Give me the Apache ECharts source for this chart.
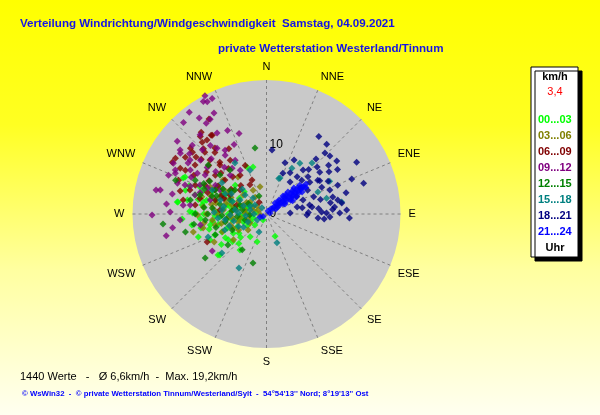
<!DOCTYPE html>
<html>
<head>
<meta charset="utf-8">
<script src="https://cdn.jsdelivr.net/npm/echarts@6/dist/echarts.min.js"></script>
<style>
  html, body { margin: 0; padding: 0; }
  #main { width: 600px; height: 415px; }
</style>
</head>
<body>
<div id="main"></div>
<script>
// Himmelsrichtungen (Winkelachse, alle 22,5 Grad)
var dirLabels = ['N', 'NNE', 'NE', 'ENE', 'E', 'ESE', 'SE', 'SSE', 'S', 'SSW', 'SW', 'WSW', 'W', 'WNW', 'NW', 'NNW'];
// beschriftete Ringe der Radiusachse (km/h)
var radiusLabels = [0, 10];
var maxSpeed = 19.2;
var hourBins = ['00...03', '03...06', '06...09', '09...12', '12...15', '15...18', '18...21', '21...24'];
var binColors = ['#00ff00', '#808000', '#800000', '#800080', '#008000', '#008080', '#000080', '#0000ff'];

// Messwerte je 3-Stunden-Block: [Geschwindigkeit km/h, Richtung Grad]
var h00 = [[12.1,266.6],[10.2,270.8],[7.1,272.3],[5.8,282.8],[2.8,290.7],[9.2,280.7],[6.7,266.3],[4.6,246.2],
  [6.3,230.9],[9.1,229.8],[6.4,216.4],[4.2,198.7],[4.0,215.7],[3.4,158.9],[6.9,248],[8.9,245.3],[1.0,210],
  [12.8,277.7],[12.1,286.4],[9.3,278],[10.3,251.4],[8.9,228.6],[12.8,294.4],[10.3,292.1],[12.9,277.6],
  [10.6,270.8],[7.3,337.5],[7.0,344],[13.0,293.3],[3.8,267.8],[8.2,259],[6.5,294.6],[6.1,312.6],[2.3,226.3],
  [10.8,261.6],[5.0,260],[3.0,275],[4.5,300],[7.5,285],[8.0,300],[5.5,240],[3.5,250],[9.8,288],
  [7.8,262],[6.0,250],[8.5,255],[4.8,235],[3.2,238],[5.5,270],[9.5,266],[11.0,272],[7.0,295],[5.2,290],
  [2.0,255],[1.5,280],[8.8,283],[6.2,277],[4.0,287],[3.5,262],[10.0,282],[6.8,240],[11.5,280],[9.0,270],
  [5.8,223],[7.8,236],[2.6,300],[4.5,315],
  [7.0,258],[8.0,248],[5.0,228],[6.6,236],[9.6,258],[4.0,258],[2.5,245],[7.4,268],[3.0,288],[6.0,300],
  [8.4,292],[10.6,285],[11.8,290],[5.4,282]];
var h03 = [[7.5,257.9],[4.2,254.3],[2.7,241.4],[0.9,261],[3.1,280.5],[6.2,275.3],[9.1,276.4],[9.9,269.2],
  [10.8,256.2],[9.3,257.6],[5.2,247.3],[2.2,297.4],[7.1,290.1],[5.1,284.6],[2.9,306],[1.3,295.2],[3.1,272.7],
  [4.3,277.7],[6.5,299.1],[3.9,330.6],[4.0,346.5],[8.9,295.5],[7.9,308],[6.7,322.4],[4.3,309],[5.2,268.4],
  [7.8,263.7],[3.5,229.1],[8.5,241.9],[5.4,253.2],[2.9,326],
  [6.0,285],[7.0,270],[8.0,280],[3.6,290],[5.6,295],[4.8,262],[6.6,258],[2.4,268],[8.4,288],[5.8,305],
  [7.2,300],[3.3,300],[4.6,240],[6.0,232],[2.0,285],[7.6,275],[9.6,285],[1.8,310],
  [5.0,275],[6.4,290],[8.6,270],[3.8,262],[7.4,282],[4.4,295],[9.0,262],[2.8,255],[6.8,248],[5.6,264]];
var h06 = [[15.9,328.8],[13.8,324.9],[15.0,321.4],[13.8,309.8],[13.0,309],[15.3,301.5],[13.6,321.2],[13.8,318.1],
  [14.6,319.5],[13.7,325.5],[14.4,310.8],[15.4,298.8],[13.2,298.4],[12.4,304.4],[11.2,313.7],[9.7,316.5],
  [9.3,326],[6.7,325.8],[9.2,307.1],[7.7,309.3],[9.7,295.2],[11.5,287.4],[5.9,297.5],[7.6,285.2],[5.1,312.2],
  [4.8,330.4],[7.6,336.3],[13.5,291],[12.1,279.5],[10.3,277.2],[6.7,275],[4.5,286.4],[9.4,244.8],[2.0,328],
  [5.3,336.9],
  [8.0,300],[10.5,305],[11.8,298],[9.0,290],[10.0,318],[12.5,315],[8.5,320],[6.2,305],[11.0,292],[12.8,285],
  [7.0,292],[14.2,305],[10.8,330],[12.0,322],[8.8,312],[5.5,318],
  [9.5,300],[10.8,310],[8.2,295],[11.5,320],[7.2,318],[6.5,290],[13.0,316],[9.8,283],[12.2,310],[14.0,298]];
var h09 = [[19.1,332.5],[18.5,330.7],[18.2,332.2],[18.3,334.8],[18.3,322.8],[16.3,332.5],[15.8,329.3],[15.6,326.4],
  [17.7,317.8],[15.4,306.5],[13.4,305.2],[14.5,295.7],[15.1,291.6],[15.6,282.7],[16.4,269.5],[14.4,275.7],
  [13.8,271.2],[13.6,261.6],[14.7,257.7],[9.4,235.8],[16.2,282.3],[12.2,309.1],[12.7,320.7],[10.9,327],
  [8.9,329.7],[7.3,329],[7.6,316.9],[8.4,299.4],[10.4,293.6],[10.6,284.9],[12.4,289.6],[10.4,302.4],
  [13.6,328.6],[12.2,341.2],[16.5,309.2],[14.5,312.8],[15.1,305.2],[15.2,298.6],[13.4,303],[14.3,294.1],
  [11.5,300.5],[13.5,289.1],[11.8,323.1],[10.3,324.9],[8.2,323.1],[7.5,297.3],[8.3,283.9],[11,276.7],
  [12.4,266],[9.6,260.6],
  [9.5,310],[11.2,315],[13.0,315],[9.0,318],[14.8,320],[12.0,296],[10.0,288],[16.8,325],[13.2,335],[11.0,335],
  [10.8,308],[12.6,300],[9.2,294],[14.0,308],[11.6,290],[13.8,282],[12.0,276]];
var h12 = [[14.9,264.5],[11.9,257.5],[10.8,234.4],[7.3,195.4],[6.2,214.2],[2.8,337.4],[9.6,350.1],[13.9,290.4],
  [9.9,286],[8.1,295],[5.6,291],[3.2,254.4],[6.0,259.1],[8.8,264.4],[11.1,280.4],[7.8,276.3],[5.7,307.3],
  [8.7,310],[4.0,288.8],[2.4,266.5],[11.3,295.4],[10.9,310],[8.2,320.3],[7.9,247.8],[7.1,231.2],
  [6.8,282],[9.0,276],[7.2,300],[5.0,275],[4.2,265],[10.2,270],[8.2,288],[6.4,268],[3.5,280],[9.4,300],
  [7.5,255],[5.4,245],[10.5,262],
  [7.6,290],[5.8,263],[9.6,292],[6.2,303],[8.4,270],[4.6,280],[10.0,296],[3.0,300]];
var h15 = [[2.8,202.6],[4.4,160.1],[8.7,207],[8.5,228.8],[9.0,248.5],[2.9,246.6],[1.6,237.7],[8.7,33.3],
  [9.8,41.7],[7.5,29],[5.5,20.6],[10.2,62.5],[8.9,75.2],[10.9,81],[8.0,66.9],[8.6,328.3],[5.4,19.1],
  [6.7,339.4],[4.3,297.8],[2.4,283.6],[2.1,308],[4.5,277.2],[4.1,311.5],[5.2,268.4],[1.1,323],[6.4,248.9],
  [6.9,286.8],[8.5,293.8],
  [3.5,290],[5.8,300],[6.2,280],[3.0,265],[4.8,258],[7.5,272],[5.0,316],[3.0,320],[6.0,262],[1.8,270],
  [7.8,305],[3.8,240],
  [5.2,290],[4.0,272],[6.6,296],[7.0,265],[2.6,295],[5.6,252],[4.4,246],[6.4,275]];
var h18 = [[13.4,34],[13.2,40.8],[12.1,43.8],[12.3,47.6],[14.9,60.1],[9.2,4.9],[7.8,19.9],[8.7,27],[8.2,39.7],
  [8.8,43.4],[9.9,47.1],[9.7,51.9],[11.3,51.9],[13.2,67.7],[14.6,72.4],[6.8,29.8],[6.9,39.5],[7.0,46.2],
  [7.7,53.7],[8.8,56.6],[8.8,64.1],[9.7,69.3],[9.8,75.7],[10.4,78.9],[9.8,84.2],[9.1,92.7],[7.9,87.9],
  [7.4,94.4],[10.5,89.2],[11.5,87.2],[11.9,92.7],[6.3,78.3],[5.6,69],[4.5,77.1],[3.4,87.6],[6.8,60],
  [6.1,52.2],[5.7,36.3],[6.3,21.9],[5.8,91.4],[8.6,89.1],[10.9,81.7],[6.6,81.3],
  [7.2,70],[8.0,75],[9.3,80],[10.0,62],[11.0,68],[7.5,84],[8.3,95],[6.0,88],[9.0,58],[10.8,56],[12.0,58],
  [11.8,75],[9.5,86],[5.0,60],[5.2,80],[12.6,53],[8.0,48],[10.6,42]];
var h21 = [[0.5,26.6],[1.0,42],[1.5,47],[2.0,49.4],[2.5,50.8],[3.0,51.8],[3.5,52.4],[4.0,52.9],[4.5,53.3],
  [5.1,53.6],[5.6,53.9],[6.1,54.1],[6.6,54.2],[3.5,42.5],[4.4,44.3],[5.4,46.6],[6.3,49.1],[2.7,41.8],
  [3.0,61.6],[4.0,60.3],[4.9,60],[1.5,62.2],[0.5,74],[6.0,58.2],[7.1,52.8],[2.2,56],[3.2,46],[4.2,57],
  [5.0,48],[5.8,50],[1.8,58],[3.8,48],[4.7,55],[1.0,245],[0.6,235],
  [2.4,44],[3.4,57],[4.6,50],[5.5,57],[6.4,53],[1.2,50],[2.8,58],[3.9,45],[5.2,51],[6.8,56],[4.2,63],[2.0,38]];
var hourData = [h00, h03, h06, h09, h12, h15, h18, h21];

var font = 'Liberation Sans, Arial, sans-serif';
var myChart = echarts.init(document.getElementById('main'));

var option = {
    animation: false,
    backgroundColor: {
        type: 'linear', x: 0, y: 0, x2: 0, y2: 1,
        colorStops: [
            { offset: 0, color: '#ffff00' },
            { offset: 0.3, color: '#ffff22' },
            { offset: 0.65, color: '#ffffa0' },
            { offset: 1, color: '#fffff0' }
        ]
    },
    title: [
        {
            text: 'Verteilung Windrichtung/Windgeschwindigkeit  Samstag, 04.09.2021',
            left: 20, top: 18, padding: 0,
            textStyle: { color: '#1414e6', fontSize: 11.6, fontWeight: 'bold', fontFamily: font }
        },
        {
            text: 'private Wetterstation Westerland/Tinnum',
            left: 218, top: 43, padding: 0,
            textStyle: { color: '#1414e6', fontSize: 11.6, fontWeight: 'bold', fontFamily: font }
        },
        {
            text: '1440 Werte   -   Ø 6,6km/h  -  Max. 19,2km/h',
            left: 20, top: 371, padding: 0,
            textStyle: { color: '#000', fontSize: 11, fontWeight: 'normal', fontFamily: font }
        },
        {
            text: '© WsWin32  -  © private Wetterstation Tinnum/Westerland/Sylt  -  54°54\'13\'\' Nord; 8°19\'13\'\' Ost',
            left: 22, top: 390, padding: 0,
            textStyle: { color: '#0000ff', fontSize: 7.8, fontWeight: 'bold', fontFamily: font }
        }
    ],
    graphic: [
        {
            type: 'rect', z: 0,
            shape: { x: 531, y: 67, width: 47, height: 190 },
            style: { fill: '#fff', stroke: '#000', lineWidth: 1, shadowColor: '#000', shadowOffsetX: 4, shadowOffsetY: 4, shadowBlur: 0 }
        },
        {
            type: 'text', z: 1, x: 555, y: 77,
            style: { text: 'km/h', fill: '#000', font: 'bold 11px ' + font, textAlign: 'center', textVerticalAlign: 'middle' }
        },
        {
            type: 'text', z: 1, x: 555, y: 92,
            style: { text: '3,4', fill: '#ff0000', font: '11px ' + font, textAlign: 'center', textVerticalAlign: 'middle' }
        },
        {
            type: 'text', z: 1, x: 555, y: 248,
            style: { text: 'Uhr', fill: '#000', font: 'bold 11px ' + font, textAlign: 'center', textVerticalAlign: 'middle' }
        }
    ],
    legend: {
        orient: 'vertical',
        left: 533, top: 112, padding: 0,
        icon: 'none', itemWidth: 0, itemHeight: 16, itemGap: 0,
        selectedMode: false,
        textStyle: { fontSize: 11, fontWeight: 'bold', fontFamily: font, lineHeight: 16 },
        data: hourBins.map(function (name, i) {
            return { name: name, textStyle: { color: binColors[i] } };
        })
    },
    polar: {
        center: [266.5, 214],
        radius: 134
    },
    angleAxis: {
        type: 'value',
        min: 0, max: 360, interval: 22.5,
        startAngle: 90, clockwise: true,
        axisLine: { show: false },
        axisTick: { show: false },
        axisLabel: {
            color: '#000', fontSize: 11, fontFamily: font, margin: 8,
            formatter: function (v) {
                return v >= 360 ? '' : dirLabels[Math.round(v / 22.5) % 16];
            }
        },
        splitLine: { show: true, lineStyle: { color: '#808080', width: 1, type: [3, 3] } }
    },
    radiusAxis: {
        type: 'value',
        min: 0, max: maxSpeed, interval: 10,
        axisLine: { show: false },
        axisTick: { show: false },
        axisLabel: {
            color: '#000', fontSize: 12, fontFamily: font,
            margin: -3, align: 'left', verticalAlign: 'middle',
            formatter: function (v) {
                return radiusLabels.indexOf(v) >= 0 ? String(v) : '';
            }
        },
        splitLine: { show: true, lineStyle: { color: ['rgba(0,0,0,0)', '#808080', 'rgba(0,0,0,0)'], width: 1, type: [3, 3] } },
        splitArea: { show: true, areaStyle: { color: ['#c9c9c9'] } }
    },
    series: hourBins.map(function (name, i) {
        return {
            name: name,
            type: 'scatter',
            coordinateSystem: 'polar',
            symbol: 'diamond',
            symbolSize: 7,
            itemStyle: { color: binColors[i] },
            data: hourData[i]
        };
    })
};

myChart.setOption(option);
</script>
</body>
</html>
